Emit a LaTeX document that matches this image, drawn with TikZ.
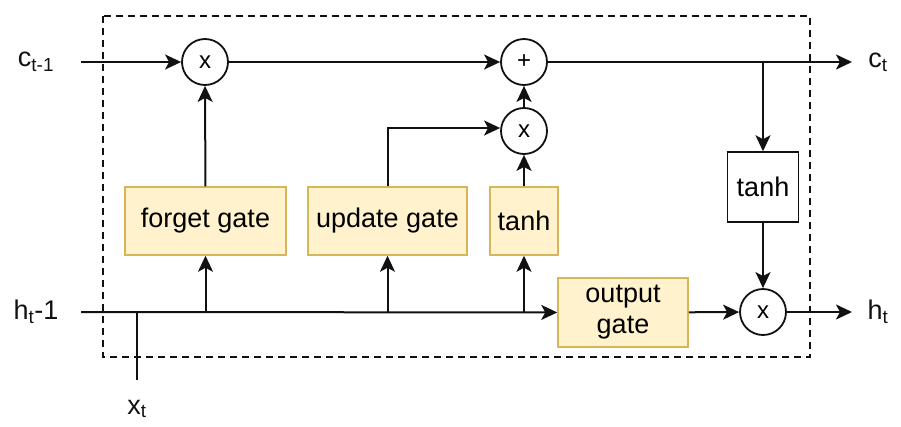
\documentclass[tikz,border=0pt]{standalone}
\usepackage{fontspec}
\setmainfont{Liberation Sans}
\usetikzlibrary{arrows.meta}
\definecolor{gatefill}{HTML}{FFF2CC}
\definecolor{gateline}{HTML}{D6B656}
\definecolor{ink}{HTML}{111111}
\begin{document}
\begin{tikzpicture}[x=1pt,y=-1pt,
  line width=2pt, draw=ink,
  font=\fontsize{27}{31}\selectfont,
  arr/.style={-{Stealth[length=16pt,width=15pt,inset=4pt]}},
  gate/.style={draw=gateline,fill=gatefill,line width=1.5pt,inner sep=0pt,align=center},
  plainbox/.style={draw=ink,fill=white,line width=1.5pt,inner sep=0pt},
  op/.style={circle,draw=ink,line width=1.8pt,minimum size=46pt,inner sep=0pt,font=\fontsize{24}{28}\selectfont},
  lbl/.style={inner sep=0pt,text=ink}]
\useasboundingbox (0,0) rectangle (901,426);

% cell boundary
\draw[dashed,line width=1.5pt,dash pattern=on 7pt off 5pt] (103,16) rectangle (810,357);

% operators
\node[op] (mulf) at (205,62) {x};
\node[op] (add)  at (524,62) {+};
\node[op] (muli) at (524,131) {x};
\node[op] (mulo) at (763,312) {x};

% gates
\node[gate,minimum width=161pt,minimum height=68pt] (forget) at (205.5,221) {forget gate};
\node[gate,minimum width=159pt,minimum height=68pt] (update) at (387.5,221) {update gate};
\node[gate,minimum width=68pt,minimum height=68pt] (tanhc) at (524,221) {tanh};
\node[gate,minimum width=130pt,minimum height=69pt] (outg) at (623,312.5) {output\\gate};
\node[plainbox,minimum width=71pt,minimum height=70pt] (tanho) at (763,187) {tanh};

% labels and free ends
\node[lbl] (cin) at (36,62) {c\textsubscript{t-1}};
\node[lbl] (cout) at (878,62) {c\textsubscript{t}};
\node[lbl] (hin) at (36,312) {h\textsubscript{t}-1};
\node[lbl] (hout) at (878,312) {h\textsubscript{t}};
\node[lbl] (xin) at (137,409) {x\textsubscript{t}};
\coordinate (cstart) at (81,62);
\coordinate (cend) at (852,62);
\coordinate (hstart) at (81,312);
\coordinate (hend) at (852,312);
\coordinate (xbot) at (137,380);
\coordinate (xtop) at (137,312);
\coordinate (ctap) at (763,62);
\coordinate (fj) at (205.5,312);
\coordinate (uj) at (387.5,312);
\coordinate (tj) at (524,312);
\coordinate (ucorner) at (387.5,128);

% cell state path
\draw[arr] (cstart) -- (mulf);
\draw[arr] (mulf) -- (add);
\draw[arr] (add) -- (cend);
\draw[arr] (muli) -- (add);
\draw[arr] (ctap) -- (tanho);
\draw[arr] (tanho) -- (mulo);

% hidden state path
\draw[arr] (hstart) -- (outg);
\draw (xbot) -- (xtop);
\draw[arr] (fj) -- (forget);
\draw[arr] (uj) -- (update);
\draw[arr] (tj) -- (tanhc);
\draw[arr] (forget) -- (mulf);
\draw[arr] (tanhc) -- (muli);
\draw[arr] (update.north) -- (ucorner) -- (muli.west |- ucorner);
\draw[arr] (outg) -- (mulo);
\draw[arr] (mulo) -- (hend);
\end{tikzpicture}
\end{document}
